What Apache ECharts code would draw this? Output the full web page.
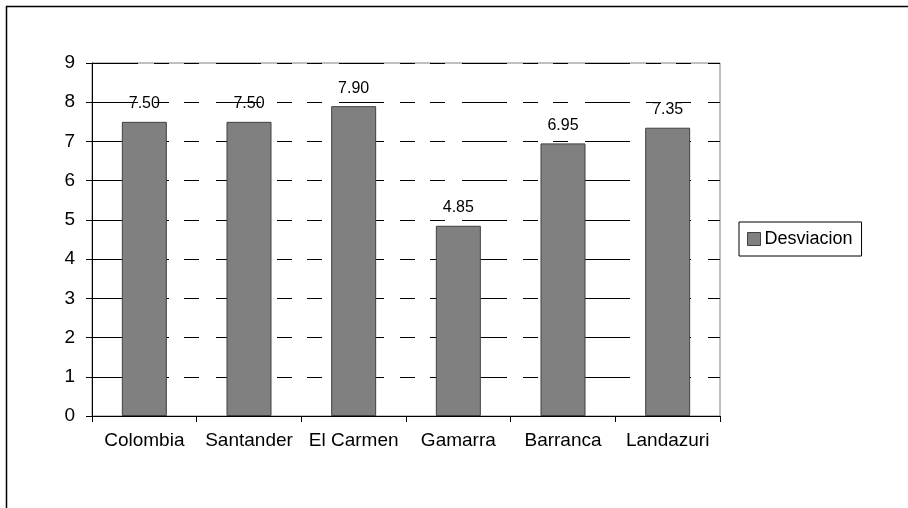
<!DOCTYPE html>
<html>
<head>
<meta charset="utf-8">
<script src="https://cdn.jsdelivr.net/npm/echarts@6/dist/echarts.min.js"></script>
<style>
html,body{margin:0;padding:0;background:#fff;}
#c{width:908px;height:508px;}
</style>
</head>
<body>
<div id="c"></div>
<script>
var categories = ['Colombia', 'Santander', 'El Carmen', 'Gamarra', 'Barranca', 'Landazuri'];
var desviacion = [7.50, 7.50, 7.90, 4.85, 6.95, 7.35];
var seriesName = 'Desviacion';
var yMin = 0, yMax = 9, yStep = 1;

var FONT = "'Liberation Sans', Arial, sans-serif";
var chart = echarts.init(document.getElementById('c'), null, {renderer: 'canvas'});
chart.setOption({
  animation: false,
  backgroundColor: '#fff',
  textStyle: {fontFamily: FONT, color: '#000'},
  graphic: [{
    type: 'rect', left: 4, top: 4, silent: true,
    shape: {x: 0, y: 0, width: 920, height: 520},
    style: {fill: 'none', stroke: '#000', lineWidth: 1.5}
  }],
  grid: {left: 92, right: 188, top: 63, bottom: 92, show: true, borderColor: '#808080', borderWidth: 1, backgroundColor: 'transparent'},
  legend: {
    data: [seriesName],
    left: 739, top: 222,
    orient: 'vertical',
    borderColor: '#000', borderWidth: 1,
    padding: [8, 9, 8, 8],
    itemWidth: 13, itemHeight: 13, itemGap: 6,
    icon: 'rect',
    itemStyle: {color: '#808080', borderColor: '#404040', borderWidth: 1},
    textStyle: {fontFamily: FONT, fontSize: 18, color: '#000', padding: [0, 0, 0, -1]}
  },
  xAxis: {
    type: 'category', data: categories,
    boundaryGap: true,
    axisLine: {lineStyle: {color: '#000', width: 1}},
    axisTick: {show: true, length: 6, lineStyle: {color: '#000'}},
    axisLabel: {fontFamily: FONT, fontSize: 19, color: '#000', margin: 15, interval: 0},
    splitLine: {show: false}
  },
  yAxis: {
    type: 'value', min: yMin, max: yMax, interval: yStep,
    axisLine: {show: true, lineStyle: {color: '#000', width: 1}},
    axisTick: {show: true, length: 6, lineStyle: {color: '#000'}},
    axisLabel: {fontFamily: FONT, fontSize: 19, color: '#000', margin: 17},
    splitLine: {show: true, lineStyle: {color: '#000', width: 1, type: [45, 16, 15, 15, 15, 17], dashOffset: 122}}
  },
  series: [{
    name: seriesName, type: 'bar', data: desviacion,
    barWidth: '43%',
    itemStyle: {color: '#808080', borderColor: '#404040', borderWidth: 1},
    label: {show: true, position: 'top', distance: 10, fontFamily: FONT, fontSize: 16, color: '#000',
      formatter: function (p) { return p.value.toFixed(2); }}
  }]
});
</script>
</body>
</html>
